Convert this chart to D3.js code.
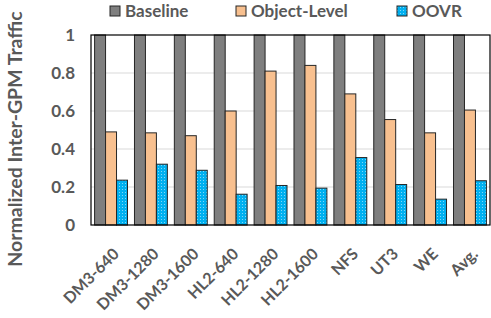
<!DOCTYPE html>
<html>
<head>
<meta charset="utf-8">
<script src="https://cdn.jsdelivr.net/npm/d3@7"></script>
<style>
  body { margin: 0; background: #fff; }
  text { font-family: Lato, "Liberation Sans", sans-serif; font-weight: bold; fill: #595959; }
</style>
</head>
<body>
<svg id="chart" width="491" height="318"></svg>
<script>
const categories = ["DM3-640", "DM3-1280", "DM3-1600", "HL2-640", "HL2-1280", "HL2-1600", "NFS", "UT3", "WE", "Avg."];
const seriesNames = ["Baseline", "Object-Level", "OOVR"];
const baseline = [1, 1, 1, 1, 1, 1, 1, 1, 1, 1];
const objectLevel = [0.49, 0.485, 0.47, 0.60, 0.81, 0.84, 0.69, 0.555, 0.485, 0.605];
const oovr = [0.236, 0.32, 0.288, 0.162, 0.208, 0.194, 0.355, 0.213, 0.136, 0.233];
const yTicks = [0, 0.2, 0.4, 0.6, 0.8, 1];

const colors = ["#7f7f7f", "#f8c08f", "url(#dots)"];
const values = [baseline, objectLevel, oovr];

let svg = d3.select("#chart");
let margin = {left: 91, top: 35, right: 1, bottom: 93};
let w = 491 - margin.left - margin.right;
let h = 318 - margin.top - margin.bottom;

// dotted fill for OOVR
let pat = svg.append("defs").append("pattern")
    .attr("id", "dots").attr("width", 3).attr("height", 3)
    .attr("patternUnits", "userSpaceOnUse");
pat.append("rect").attr("width", 3).attr("height", 3).attr("fill", "#00b0f0");
pat.append("rect").attr("x", 1).attr("y", 1).attr("width", 1).attr("height", 1).attr("fill", "#7fd8f8");

let g = svg.append("g").attr("transform", `translate(${margin.left},${margin.top})`);

let x = d3.scaleBand().domain(categories).range([0, w]).paddingInner(0.175).paddingOuter(0.09);
let xs = d3.scaleBand().domain(seriesNames).range([0, x.bandwidth()]);
let y = d3.scaleLinear().domain([0, 1]).range([h, 0]);

// grid
g.selectAll(".grid").data(yTicks.slice(1, -1)).enter().append("line")
    .attr("x1", 0).attr("x2", w)
    .attr("y1", d => y(d)).attr("y2", d => y(d))
    .attr("stroke", "#d9d9d9").attr("stroke-width", 1);

// y tick labels
g.selectAll(".ytick").data(yTicks).enter().append("text")
    .attr("x", -16).attr("y", d => y(d)).attr("dy", "0.36em")
    .attr("text-anchor", "end").attr("font-size", 17)
    .text(d => d);

// bars
seriesNames.forEach((s, i) => {
    g.selectAll(".bar" + i).data(categories).enter().append("rect")
        .attr("x", d => x(d) + xs(s))
        .attr("y", (d, j) => y(values[i][j]))
        .attr("width", xs.bandwidth())
        .attr("height", (d, j) => h - y(values[i][j]))
        .attr("fill", colors[i])
        .attr("stroke", "#262626").attr("stroke-width", 1);
});

// plot frame
g.append("rect").attr("x", 0).attr("y", 0).attr("width", w).attr("height", h)
    .attr("fill", "none").attr("stroke", "#000").attr("stroke-width", 1.2);

// x labels
g.selectAll(".xlab").data(categories).enter().append("text")
    .attr("transform", d => `translate(${x(d) + x.bandwidth() / 2 + 9},${h + 30}) rotate(-45)`)
    .attr("text-anchor", "end").attr("font-size", 16)
    .text(d => d);

// y title
svg.append("text")
    .attr("transform", "translate(22,139) rotate(-90)")
    .attr("text-anchor", "middle").attr("font-size", 19.5)
    .text("Normalized Inter-GPM Traffic");

// legend
let legendX = [110, 236, 397];
seriesNames.forEach((s, i) => {
    svg.append("rect").attr("x", legendX[i]).attr("y", 6)
        .attr("width", 10).attr("height", 10)
        .attr("fill", colors[i]).attr("stroke", "#262626").attr("stroke-width", 1);
    svg.append("text").attr("x", legendX[i] + 15).attr("y", 11).attr("dy", "0.36em")
        .attr("font-size", 17).text(s);
});
</script>
</body>
</html>
